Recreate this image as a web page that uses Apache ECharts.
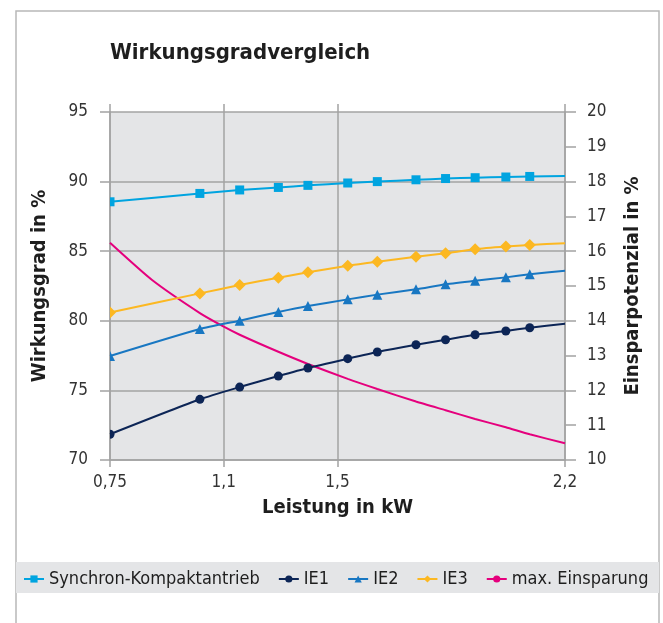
<!DOCTYPE html>
<html>
<head>
<meta charset="utf-8">
<script src="https://cdn.jsdelivr.net/npm/echarts@6/dist/echarts.min.js"></script>
<style>
  html, body { margin: 0; padding: 0; background: #fff; }
  #chart { width: 663px; height: 623px; }
</style>
</head>
<body>
<div id="chart"></div>
<script>
// x-Achse: Ticks gleichmäßig nach Index (0,75 | 1,1 | 1,5 | – | 2,2)
const tickPos = [0, 1, 2, 4]
const tickLabels = ['0,75', '1,1', '1,5', '2,2']

// Positionen der Messpunkte auf der x-Achse (in Tick-Einheiten)
const xPos = [0, 0.79, 1.14, 1.48, 1.74, 2.09, 2.35, 2.69, 2.95, 3.21, 3.48, 3.69, 4]

// Wirkungsgrad in %
const synchron = [88.55, 89.15, 89.4, 89.58, 89.73, 89.9, 90.0, 90.13, 90.22, 90.28, 90.33, 90.37, 90.4]
const ie1 = [71.85, 74.36, 75.24, 76.03, 76.61, 77.28, 77.76, 78.28, 78.64, 79.0, 79.27, 79.5, 79.79]
const ie2 = [77.47, 79.41, 80.01, 80.63, 81.06, 81.54, 81.88, 82.26, 82.62, 82.88, 83.12, 83.34, 83.6]
const ie3 = [80.6, 81.97, 82.57, 83.1, 83.48, 83.96, 84.25, 84.6, 84.85, 85.14, 85.33, 85.45, 85.57]

// Einsparpotenzial in % (eigene Stützstellen, Kurve ohne Marker)
const einsparX = [0, 0.37, 0.79, 1.0, 1.14, 1.48, 1.74, 2.09, 2.35, 2.69, 2.95, 3.21, 3.48, 3.69, 4]
const einsparung = [16.24, 15.17, 14.22, 13.83, 13.6, 13.11, 12.76, 12.33, 12.04, 11.68, 11.43, 11.18, 10.94, 10.74, 10.48]

const FONT = "'Liberation Sans Narrow', 'DejaVu Sans Condensed', 'Liberation Sans', sans-serif"
const GRID_GRAY = '#a3a3a3'
const TEXT = '#1e1e1e'

// erster Punkt liegt auf der Achse -> nur rechte Hälfte des Symbols sichtbar
const halfSymbol = {
  rect: 'rect',
  circle: 'path://M0,0 A1,1 0 0 1 0,2 Z',
  triangle: 'path://M0,0 L1,2 L0,2 Z',
  diamond: 'path://M0,0 L1,1 L0,2 Z'
}

function buildData(values, symbol, size) {
  return values.map((v, i) => {
    if (i === 0) {
      return { value: [xPos[i], v], symbol: halfSymbol[symbol], symbolSize: [size / 2, size], symbolOffset: [size / 4, 0] }
    }
    if (i === values.length - 1) {
      return { value: [xPos[i], v], symbol: 'none' }
    }
    return [xPos[i], v]
  })
}

function lineSeries(name, values, color, symbol, size) {
  return {
    name,
    type: 'line',
    smooth: 0.2,
    symbol,
    symbolSize: size,
    showAllSymbol: true,
    lineStyle: { color, width: 2 },
    itemStyle: { color },
    data: buildData(values, symbol, size),
    z: 3
  }
}

const chart = echarts.init(document.getElementById('chart'))
chart.setOption({
  animation: false,
  title: {
    text: 'Wirkungsgradvergleich',
    left: 105,
    top: 37,
    textStyle: { fontFamily: FONT, fontSize: 22, fontWeight: 'bold', color: TEXT }
  },
  graphic: [
    { type: 'rect', z: -10, shape: { x: 16, y: 11, width: 643, height: 620 }, style: { fill: 'none', stroke: '#b8b8b8', lineWidth: 1.5 } },
    { type: 'rect', z: -10, shape: { x: 16, y: 562, width: 643, height: 31 }, style: { fill: '#e4e5e7' } }
  ],
  legend: {
    left: 18,
    top: 565,
    itemWidth: 20,
    itemHeight: 9,
    itemGap: 18,
    textStyle: { fontFamily: FONT, fontSize: 18, color: TEXT },
    data: ['Synchron-Kompaktantrieb', 'IE1', 'IE2', 'IE3', 'max. Einsparung']
  },
  grid: {
    left: 110, right: 98, top: 112, bottom: 163,
    show: true, backgroundColor: '#e4e5e7', borderWidth: 0
  },
  xAxis: [
    {
      type: 'value', min: 0, max: 4,
      name: 'Leistung in kW', nameLocation: 'middle', nameGap: 38,
      nameTextStyle: { fontFamily: FONT, fontSize: 20, fontWeight: 'bold', color: TEXT },
      axisLine: { show: true, onZero: false, lineStyle: { color: GRID_GRAY, width: 1.5 } },
      axisTick: { show: true, customValues: tickPos, length: 7, lineStyle: { color: GRID_GRAY, width: 1.5 } },
      axisLabel: {
        customValues: tickPos, margin: 14,
        fontFamily: FONT, fontSize: 17, color: '#333',
        formatter: v => tickLabels[tickPos.indexOf(v)] || ''
      },
      splitLine: { show: true, lineStyle: { color: GRID_GRAY, width: 1.5 } }
    },
    {
      type: 'value', min: 0, max: 4, position: 'top',
      axisLine: { show: false, onZero: false },
      axisTick: { show: true, customValues: tickPos, length: 8, lineStyle: { color: GRID_GRAY, width: 1.5 } },
      axisLabel: { show: false },
      splitLine: { show: false }
    }
  ],
  yAxis: [
    {
      type: 'value', min: 70, max: 95, interval: 5,
      name: 'Wirkungsgrad in %', nameLocation: 'middle', nameGap: 60,
      nameTextStyle: { fontFamily: FONT, fontSize: 20, fontWeight: 'bold', color: TEXT },
      axisLine: { show: true, onZero: false, lineStyle: { color: GRID_GRAY, width: 1.5 } },
      axisTick: { show: true, length: 10, lineStyle: { color: GRID_GRAY, width: 1.5 } },
      axisLabel: { margin: 22, fontFamily: FONT, fontSize: 17, color: '#333' },
      splitLine: { show: true, lineStyle: { color: GRID_GRAY, width: 1.5 } }
    },
    {
      type: 'value', min: 10, max: 20, interval: 1, position: 'right',
      name: 'Einsparpotenzial in %', nameLocation: 'middle', nameGap: 58,
      nameTextStyle: { fontFamily: FONT, fontSize: 20, fontWeight: 'bold', color: TEXT },
      axisLine: { show: true, onZero: false, lineStyle: { color: GRID_GRAY, width: 1.5 } },
      axisTick: { show: true, length: 11, lineStyle: { color: GRID_GRAY, width: 1.5 } },
      axisLabel: { margin: 22, fontFamily: FONT, fontSize: 17, color: '#333' },
      splitLine: { show: false }
    }
  ],
  series: [
    lineSeries('Synchron-Kompaktantrieb', synchron, '#00a4e0', 'rect', 9),
    lineSeries('IE1', ie1, '#0c2556', 'circle', 9),
    lineSeries('IE2', ie2, '#1877c2', 'triangle', 10),
    lineSeries('IE3', ie3, '#fcb822', 'diamond', 12),
    {
      name: 'max. Einsparung',
      type: 'line',
      yAxisIndex: 1,
      smooth: 0.2,
      symbol: 'none',
      lineStyle: { color: '#e5007d', width: 2 },
      itemStyle: { color: '#e5007d' },
      data: einsparung.map((v, i) => [einsparX[i], v]),
      z: 2
    }
  ]
})
</script>
</body>
</html>
